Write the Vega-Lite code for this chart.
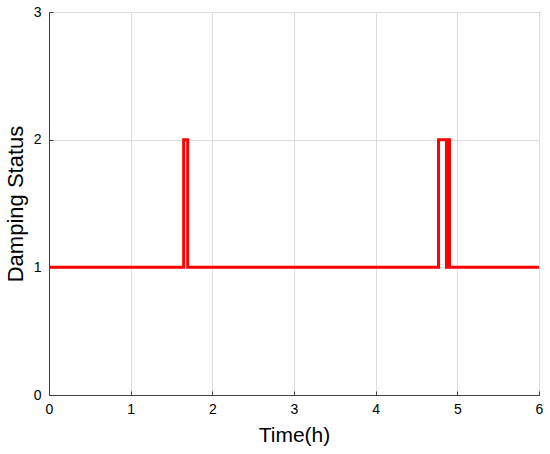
{
  "$schema": "https://vega.github.io/schema/vega-lite/v6.json",
  "autosize": "none",
  "width": 490,
  "height": 383,
  "padding": {"left": 49, "top": 12, "right": 11, "bottom": 59},
  "background": "white",
  "config": {
    "view": {"stroke": "#404040", "strokeWidth": 1},
    "font": "Liberation Sans"
  },
  "data": {
    "values": [
      {"t": 0, "v": 1},
      {"t": 1.649, "v": 2},
      {"t": 1.698, "v": 1},
      {"t": 4.77, "v": 2},
      {"t": 4.867, "v": 1},
      {"t": 4.885, "v": 2},
      {"t": 4.904, "v": 1},
      {"t": 6, "v": 1}
    ]
  },
  "mark": {"type": "line", "interpolate": "step-after", "color": "#ff0000", "strokeWidth": 3, "clip": true},
  "encoding": {
    "x": {
      "field": "t", "type": "quantitative",
      "scale": {"domain": [0, 6], "nice": false, "zero": false},
      "axis": {
        "title": "Time(h)", "values": [0, 1, 2, 3, 4, 5, 6], "format": "d",
        "titleFontSize": 21, "titleFontWeight": "normal", "titleColor": "#000", "titlePadding": 8,
        "labelFontSize": 14, "labelColor": "#000", "labelPadding": 11, "labelFlush": false,
        "domainColor": "#404040", "tickColor": "#404040", "tickSize": -4,
        "gridColor": "#dcdcdc", "gridOpacity": 1
      }
    },
    "y": {
      "field": "v", "type": "quantitative",
      "scale": {"domain": [0, 3], "nice": false},
      "axis": {
        "title": "Damping Status", "values": [0, 1, 2, 3], "format": "d",
        "titleFontSize": 22, "titleFontWeight": "normal", "titleColor": "#000", "titlePadding": 6,
        "labelFontSize": 14, "labelColor": "#000", "labelPadding": 12, "labelFlush": false,
        "domainColor": "#404040", "tickColor": "#404040", "tickSize": -4,
        "gridColor": "#dcdcdc", "gridOpacity": 1
      }
    }
  }
}
